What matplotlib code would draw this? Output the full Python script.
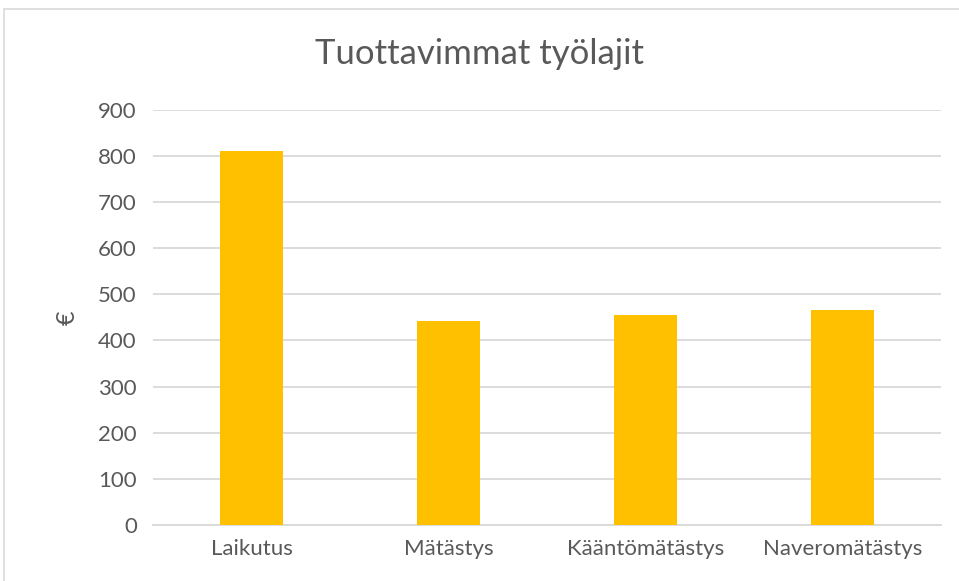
import matplotlib.pyplot as plt
from matplotlib.patches import Rectangle

categories = ["Laikutus", "Mätästys", "Kääntömätästys", "Naveromätästys"]
values = [811, 442, 454, 466]
yticks = [0, 100, 200, 300, 400, 500, 600, 700, 800, 900]

plt.rcParams['font.family'] = ['Lato', 'DejaVu Sans']
text_col = "#595959"
grid_col = "#D9D9D9"

fig = plt.figure(figsize=(9.59, 5.81), dpi=100)
ax = fig.add_axes([0.16, 0.0964, 0.821, 0.715])

x = range(len(categories))
ax.bar(x, values, width=0.32, color="#FFC000", zorder=3)

ax.set_xlim(-0.5, len(categories) - 0.5)
ax.set_ylim(0, 900)
ax.set_yticks(yticks)
ax.set_xticks(list(x))
ax.set_xticklabels(categories)
ax.grid(axis="y", color=grid_col, linewidth=1.3, zorder=0)
for s in ["top", "right", "left"]:
    ax.spines[s].set_visible(False)
ax.spines["bottom"].set_color(grid_col)
ax.spines["bottom"].set_linewidth(1.3)
ax.tick_params(axis="both", length=0, labelsize=16, labelcolor=text_col, pad=12)
ax.tick_params(axis="x", pad=10)
ax.set_ylabel("€", fontsize=18, color=text_col, labelpad=14)

fig.text(0.5, 0.907, "Tuottavimmat työlajit", ha="center", va="center",
         fontsize=25, color=text_col)

# chart frame
fig.patches.append(Rectangle((4 / 959, -0.1), 1.1, 1 - 9 / 581 + 0.1,
                             transform=fig.transFigure, fill=False,
                             edgecolor="#D9D9D9", linewidth=1.2))

fig.savefig("out.png", dpi=100)
